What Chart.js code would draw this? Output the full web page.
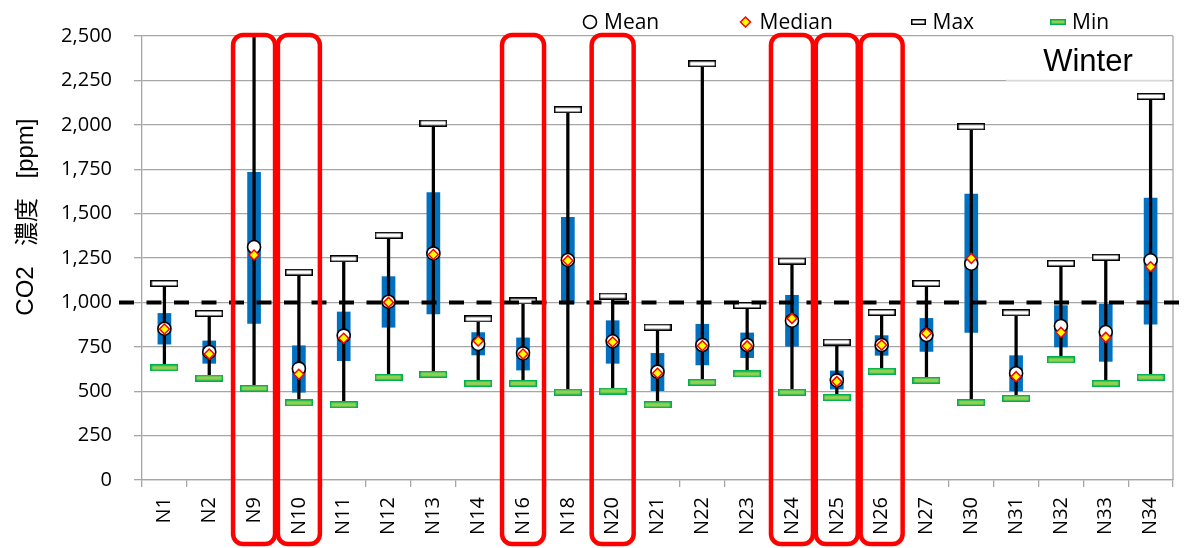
<!DOCTYPE html>
<html>
<head>
<meta charset="utf-8">
<script src="https://cdn.jsdelivr.net/npm/chart.js@4.4.1/dist/chart.umd.min.js"></script>
<style>
  html, body { margin: 0; padding: 0; background: #fff; }
  #wrap { width: 1188px; height: 548px; }
</style>
</head>
<body>
<div id="wrap"><canvas id="co2Chart" width="1188" height="548"></canvas></div>
<script>
// CO2 concentration per site, winter
const sites = ["N1", "N2", "N9", "N10", "N11", "N12", "N13", "N14", "N16", "N18", "N20", "N21",
  "N22", "N23", "N24", "N25", "N26", "N27", "N30", "N31", "N32", "N33", "N34"];
const maxValues = [1107, 938, 2700, 1170, 1246, 1378, 2010, 907, 1008, 2085, 1036, 861,
  2344, 983, 1233, 777, 944, 1107, 1989, 942, 1220, 1254, 2160];
const q3Values = [938, 783, 1732, 756, 946, 1145, 1618, 830, 800, 1479, 897, 713,
  877, 828, 1040, 614, 813, 910, 1610, 700, 982, 991, 1588];
const q1Values = [765, 657, 882, 494, 672, 860, 935, 704, 619, 991, 657, 503,
  648, 689, 753, 512, 702, 724, 831, 501, 749, 668, 878];
const meanValues = [852, 721, 1312, 627, 813, 1004, 1276, 766, 713, 1239, 781, 610,
  760, 760, 897, 561, 760, 816, 1218, 601, 867, 833, 1237];
const medianValues = [850, 709, 1267, 595, 798, 1000, 1270, 783, 709, 1235, 777, 601,
  756, 755, 910, 554, 760, 826, 1248, 582, 831, 803, 1201];
const minValues = [632, 574, 516, 434, 424, 578, 595, 544, 544, 495, 501, 424,
  550, 597, 494, 464, 612, 561, 436, 460, 676, 544, 578];
const highlightedSites = ["N9", "N10", "N16", "N20", "N24", "N25", "N26"];
const yTickStep = 250;
const yMax = 2500;
const guideLevel = 1000;
const seasonLabel = "Winter";

const FONT = "'Open Sans', 'Noto Sans', sans-serif";
const colors = {
  box: "#0070c0",
  whisker: "#000000",
  grid: "#a6a6a6",
  minFill: "#92d050",
  minBorder: "#00b050",
  medianFill: "#ffff00",
  medianBorder: "#ff0000",
  highlight: "#ff0000",
};

// small canvases used as point styles (chart marks and legend keys)
const barMarker = (w, h, fill, border, bw) => {
  const c = document.createElement("canvas");
  c.width = w;
  c.height = h;
  const g = c.getContext("2d");
  g.fillStyle = border;
  g.fillRect(0, 0, w, h);
  g.fillStyle = fill;
  g.fillRect(bw, bw, w - 2 * bw, h - 2 * bw);
  return c;
};

const maxMarker = barMarker(28, 7, "#ffffff", "#000000", 1.5);
const minMarker = barMarker(28, 7, colors.minFill, colors.minBorder, 1.5);
const maxKey = barMarker(15, 6, "#ffffff", "#000000", 1.5);
const minKey = barMarker(16, 6, colors.minFill, colors.minBorder, 1.5);

const markerDataset = (label, data, extra) => ({
  type: "line",
  label,
  data,
  showLine: false,
  ...extra,
});

const legendItems = [
  { text: "Mean", x: 590, draw: (g, x, y) => {
      g.beginPath();
      g.arc(x, y, 6.5, 0, Math.PI * 2);
      g.fillStyle = "#fff";
      g.fill();
      g.lineWidth = 1.6;
      g.strokeStyle = "#000";
      g.stroke();
    } },
  { text: "Median", x: 745.5, draw: (g, x, y) => {
      g.beginPath();
      g.moveTo(x, y - 5);
      g.lineTo(x + 5, y);
      g.lineTo(x, y + 5);
      g.lineTo(x - 5, y);
      g.closePath();
      g.fillStyle = colors.medianFill;
      g.fill();
      g.lineWidth = 1.5;
      g.strokeStyle = colors.medianBorder;
      g.stroke();
    } },
  { text: "Max", x: 918.5, draw: (g, x, y) => g.drawImage(maxKey, Math.round(x - 7.5), Math.round(y - 3)) },
  { text: "Min", x: 1058, draw: (g, x, y) => g.drawImage(minKey, Math.round(x - 8), Math.round(y - 3)) },
];

const decorations = {
  id: "decorations",
  beforeDatasetsDraw(chart) {
    const { ctx, chartArea } = chart;
    ctx.save();
    // right frame of the plot area
    ctx.strokeStyle = colors.grid;
    ctx.lineWidth = 1.3;
    ctx.beginPath();
    ctx.moveTo(chartArea.right, chartArea.top);
    ctx.lineTo(chartArea.right, chartArea.bottom);
    ctx.stroke();
    // season label box
    const y2250 = chart.scales.y.getPixelForValue(yMax - yTickStep);
    ctx.fillStyle = "#fff";
    ctx.fillRect(1006, chartArea.top + 1, 164, y2250 - chartArea.top - 1);
    ctx.strokeStyle = "#d9d9d9";
    ctx.beginPath();
    ctx.moveTo(1006, y2250);
    ctx.lineTo(1170, y2250);
    ctx.stroke();
    ctx.fillStyle = "#000";
    ctx.font = "31px 'Liberation Sans', Arial, sans-serif";
    ctx.textAlign = "center";
    ctx.textBaseline = "alphabetic";
    ctx.fillText(seasonLabel, 1088, 71);
    ctx.restore();
  },
  beforeDatasetDraw(chart, args) {
    if (chart.data.datasets[args.index].label !== "Mean") return;
    const { ctx } = chart;
    const y = chart.scales.y.getPixelForValue(guideLevel);
    ctx.save();
    ctx.strokeStyle = "#000";
    ctx.lineWidth = 4;
    ctx.setLineDash([15, 12.5]);
    ctx.beginPath();
    ctx.moveTo(119, y);
    ctx.lineTo(chart.width, y);
    ctx.stroke();
    ctx.restore();
  },
  afterDraw(chart) {
    const { ctx, chartArea } = chart;
    const xScale = chart.scales.x;
    ctx.save();
    // highlighted sites
    ctx.strokeStyle = colors.highlight;
    ctx.lineWidth = 4.5;
    highlightedSites.forEach((name) => {
      const cx = xScale.getPixelForValue(sites.indexOf(name));
      ctx.beginPath();
      ctx.roundRect(cx - 21, chartArea.top - 1, 42, chart.height - chartArea.top - 3, 10);
      ctx.stroke();
    });
    // y axis title
    ctx.fillStyle = "#000";
    ctx.translate(26, 0);
    ctx.rotate(-Math.PI / 2);
    ctx.textAlign = "center";
    ctx.textBaseline = "middle";
    ctx.font = "24px 'Liberation Sans', Arial, sans-serif";
    ctx.fillText("CO2", -291, 0);
    ctx.font = "24px 'Noto Sans CJK JP', sans-serif";
    ctx.fillText("濃度", -222, 0);
    ctx.font = "24px 'Liberation Sans', Arial, sans-serif";
    ctx.fillText("[ppm]", -148.5, 0);
    ctx.restore();
    // legend
    ctx.save();
    ctx.font = `21px ${FONT}`;
    ctx.textAlign = "left";
    ctx.textBaseline = "middle";
    ctx.fillStyle = "#000";
    legendItems.forEach((item) => {
      item.draw(ctx, item.x, 22);
      ctx.fillStyle = "#000";
      ctx.fillText(item.text, item.x + 14, 23);
    });
    ctx.restore();
  },
};

const ctx = document.getElementById("co2Chart").getContext("2d");

new Chart(ctx, {
  type: "bar",
  data: {
    labels: sites,
    datasets: [
      markerDataset("Median", medianValues, {
        pointStyle: "rectRot",
        pointRadius: 5,
        pointBackgroundColor: colors.medianFill,
        pointBorderColor: colors.medianBorder,
        pointBorderWidth: 1.5,
      }),
      markerDataset("Mean", meanValues, {
        pointStyle: "circle",
        pointRadius: 6.5,
        pointBackgroundColor: "#ffffff",
        pointBorderColor: "#000000",
        pointBorderWidth: 1.6,
      }),
      markerDataset("Max", maxValues, { pointStyle: maxMarker, pointRadius: 14 }),
      markerDataset("Min", minValues, { pointStyle: minMarker, pointRadius: 14 }),
      {
        label: "Range",
        data: sites.map((_, i) => [minValues[i], maxValues[i]]),
        backgroundColor: colors.whisker,
        barThickness: 2.6,
        grouped: false,
      },
      {
        label: "Quartiles",
        data: sites.map((_, i) => [q1Values[i], q3Values[i]]),
        backgroundColor: colors.box,
        barThickness: 13,
        grouped: false,
      },
    ],
  },
  options: {
    responsive: false,
    animation: false,
    events: [],
    locale: "en-US",
    layout: { padding: { top: 36, right: 12, left: 0, bottom: 0 } },
    plugins: {
      legend: { display: false },
      tooltip: { enabled: false },
    },
    scales: {
      x: {
        grid: { drawOnChartArea: false, tickLength: 7, color: colors.grid, lineWidth: 1.3 },
        border: { color: colors.grid, width: 1.3 },
        ticks: {
          color: "#000",
          font: { family: FONT, size: 20 },
          minRotation: 90,
          maxRotation: 90,
          padding: 10,
          autoSkip: false,
        },
        afterFit: (scale) => {
          scale.height = 68;
        },
      },
      y: {
        min: 0,
        max: yMax,
        grid: { color: colors.grid, lineWidth: 1.3, tickLength: 8 },
        border: { color: colors.grid, width: 1.3 },
        ticks: {
          stepSize: yTickStep,
          color: "#000",
          font: { family: FONT, size: 20 },
          padding: 22,
        },
        afterFit: (scale) => {
          scale.width = 142;
        },
      },
    },
  },
  plugins: [decorations],
});
</script>
</body>
</html>
